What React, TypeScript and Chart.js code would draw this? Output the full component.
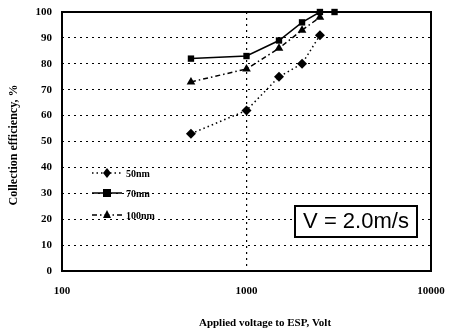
import React, { useEffect, useRef } from "react";
import { Chart, registerables } from "chart.js";

Chart.register(...registerables);

const voltages50 = [500, 1000, 1500, 2000, 2500];
const eff50 = [53, 62, 75, 80, 91];
const voltages70 = [500, 1000, 1500, 2000, 2500, 3000];
const eff70 = [82, 83, 89, 96, 100, 100];
const voltages100 = [500, 1000, 1500, 2000, 2500];
const eff100 = [73, 78, 86, 93, 98];
const seriesNames = ["50nm", "70nm", "100nm"];
const xTicks = [100, 1000, 10000];
const yTitle = "Collection efficiency, %";
const xTitle = "Applied voltage to ESP, Volt";
const boxText = "V = 2.0m/s";

const SERIF = "'Liberation Serif', 'Times New Roman', serif";
const SANS = "'Liberation Sans', Arial, sans-serif";

const styles = [
  { dash: [1.5, 3], point: "rectRot" },
  { dash: [], point: "rect" },
  { dash: [5, 3, 1.5, 3], point: "triangle" },
];

const decorPlugin = {
  id: "decor",
  afterDraw(chart: any) {
    const ctx = chart.ctx;
    const a = chart.chartArea;
    ctx.save();
    // frame
    ctx.strokeStyle = "#000";
    ctx.lineWidth = 2;
    ctx.setLineDash([]);
    ctx.strokeRect(a.left, a.top, a.right - a.left, a.bottom - a.top);

    // legend
    const rows = [173, 193, 215];
    rows.forEach((y, i) => {
      const st = styles[i];
      ctx.strokeStyle = "#000";
      ctx.lineWidth = 1.5;
      ctx.setLineDash(st.dash);
      ctx.beginPath();
      ctx.moveTo(92, y);
      ctx.lineTo(122, y);
      ctx.stroke();
      ctx.setLineDash([]);
      ctx.fillStyle = "#000";
      ctx.beginPath();
      const cx = 107;
      const r = 4;
      if (st.point === "rectRot") {
        ctx.moveTo(cx, y - r - 1);
        ctx.lineTo(cx + r, y);
        ctx.lineTo(cx, y + r + 1);
        ctx.lineTo(cx - r, y);
        ctx.closePath();
      } else if (st.point === "rect") {
        ctx.rect(cx - r, y - r, 2 * r, 2 * r);
      } else {
        ctx.moveTo(cx, y - r - 1);
        ctx.lineTo(cx + r, y + r - 1);
        ctx.lineTo(cx - r, y + r - 1);
        ctx.closePath();
      }
      ctx.fill();
      ctx.font = `bold 10px ${SERIF}`;
      ctx.textAlign = "left";
      ctx.textBaseline = "middle";
      ctx.fillText(seriesNames[i], 126, y + 1);
    });

    // text box
    ctx.fillStyle = "#fff";
    ctx.fillRect(295, 206, 122, 31);
    ctx.strokeStyle = "#000";
    ctx.lineWidth = 2;
    ctx.strokeRect(295, 206, 122, 31);
    ctx.fillStyle = "#000";
    ctx.font = `22px ${SANS}`;
    ctx.textAlign = "center";
    ctx.textBaseline = "middle";
    ctx.fillText(boxText, 356, 222);

    // axis titles
    ctx.font = `bold 11px ${SERIF}`;
    ctx.textAlign = "center";
    ctx.textBaseline = "middle";
    ctx.fillText(xTitle, 265, 323);
    ctx.translate(14, 145);
    ctx.rotate(-Math.PI / 2);
    ctx.font = `bold 12px ${SERIF}`;
    ctx.fillText(yTitle, 0, 0);
    ctx.restore();
  },
};

function mk(xs: number[], ys: number[], i: number) {
  const st = styles[i];
  return {
    label: seriesNames[i],
    data: xs.map((x, k) => ({ x, y: ys[k] })),
    borderColor: "#000",
    backgroundColor: "#000",
    borderWidth: 1.5,
    borderDash: st.dash,
    pointStyle: st.point,
    pointRadius: st.point === "rect" ? 4.5 : 5,
    pointBorderWidth: 0,
    clip: false,
    tension: 0,
  };
}

export default function App() {
  const ref = useRef<HTMLCanvasElement>(null);
  useEffect(() => {
    document.body.style.margin = "0";
    const chart = new Chart(ref.current!, {
      type: "line",
      data: {
        datasets: [
          mk(voltages50, eff50, 0),
          mk(voltages70, eff70, 1),
          mk(voltages100, eff100, 2),
        ] as any,
      },
      options: {
        animation: false,
        responsive: false,
        layout: { padding: { left: 0, right: 18, top: 12, bottom: 0 } },
        plugins: { legend: { display: false }, tooltip: { enabled: false } },
        scales: {
          x: {
            type: "logarithmic",
            min: 100,
            max: 10000,
            afterBuildTicks: (axis: any) => {
              axis.ticks = xTicks.map((v) => ({ value: v }));
            },
            afterFit: (axis: any) => {
              axis.height = 59;
              axis.paddingLeft = 0;
              axis.paddingRight = 0;
            },
            ticks: {
              color: "#000",
              padding: 14,
              maxRotation: 0,
              font: { family: SERIF, size: 11, weight: "bold" },
              callback: (v: any) => String(v),
            },
            grid: {
              drawTicks: false,
              color: (c: any) =>
                c.tick && c.tick.value === 1000 ? "#000" : "rgba(0,0,0,0)",
              lineWidth: 1.2,
            },
            border: { display: false, dash: [2, 4] },
          },
          y: {
            type: "linear",
            min: 0,
            max: 100,
            afterFit: (axis: any) => {
              axis.width = 62;
              axis.paddingTop = 0;
              axis.paddingBottom = 0;
            },
            ticks: {
              stepSize: 10,
              color: "#000",
              padding: 10,
              font: { family: SERIF, size: 11, weight: "bold" },
            },
            grid: {
              drawTicks: false,
              color: (c: any) =>
                c.tick && (c.tick.value === 0 || c.tick.value === 100)
                  ? "rgba(0,0,0,0)"
                  : "#000",
              lineWidth: 1,
            },
            border: { display: false, dash: [2, 4] },
          },
        },
      },
      plugins: [decorPlugin],
    });
    return () => chart.destroy();
  }, []);
  return (
    <div style={{ position: "absolute", left: 0, top: 0, width: 449, height: 330 }}>
      <canvas ref={ref} width={449} height={330} />
    </div>
  );
}
